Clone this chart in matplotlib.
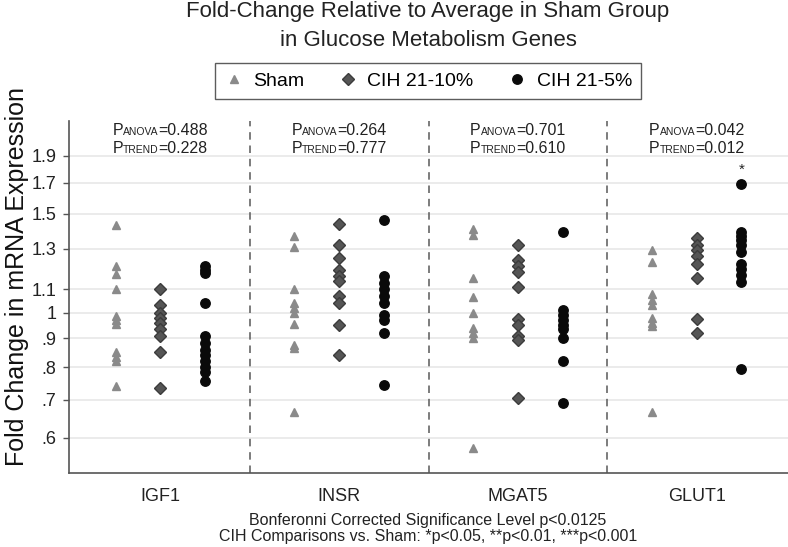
import matplotlib
matplotlib.use('Agg')
import matplotlib.pyplot as plt
from matplotlib.lines import Line2D
from matplotlib.offsetbox import TextArea, HPacker, VPacker, AnnotationBbox

plt.rcParams['font.family'] = ['Liberation Sans', 'DejaVu Sans']

# Данные
GENES = ['IGF1', 'INSR', 'MGAT5', 'GLUT1']
GROUPS = ['Sham', 'CIH 21-10%', 'CIH 21-5%']

SHAM = [
    [1.43, 1.21, 1.17, 1.10, 0.985, 0.97, 0.955, 0.85, 0.835, 0.82, 0.74],
    [1.37, 1.31, 1.10, 1.04, 1.02, 1.0, 0.955, 0.875, 0.865, 0.665],
    [1.41, 1.375, 1.15, 1.065, 1.0, 0.94, 0.92, 0.90, 0.575],
    [1.29, 1.23, 1.08, 1.055, 1.03, 0.98, 0.96, 0.945, 0.665],
]
CIH10 = [
    [1.10, 1.03, 1.0, 0.98, 0.96, 0.935, 0.91, 0.85, 0.735],
    [1.44, 1.32, 1.25, 1.19, 1.16, 1.14, 1.07, 1.04, 0.95, 0.84],
    [1.32, 1.24, 1.21, 1.18, 1.11, 0.975, 0.95, 0.91, 0.895, 0.705],
    [1.355, 1.32, 1.29, 1.26, 1.22, 1.15, 0.975, 0.92],
]
CIH5 = [
    [1.21, 1.19, 1.175, 1.04, 0.91, 0.885, 0.86, 0.84, 0.82, 0.80, 0.785, 0.755],
    [1.46, 1.16, 1.13, 1.10, 1.07, 1.04, 0.99, 0.97, 0.92, 0.745],
    [1.39, 1.01, 0.99, 0.97, 0.95, 0.935, 0.90, 0.82, 0.69],
    [1.69, 1.39, 1.37, 1.345, 1.32, 1.28, 1.22, 1.195, 1.165, 1.135, 0.795],
]
P_ANOVA = ['0.488', '0.264', '0.701', '0.042']
P_TREND = ['0.228', '0.777', '0.610', '0.012']
STARS_CIH5 = ['', '', '', '*']

YTICKS = [0.6, 0.7, 0.8, 0.9, 1.0, 1.1, 1.3, 1.5, 1.7, 1.9]
YTICKLABELS = ['.6', '.7', '.8', '.9', '1', '1.1', '1.3', '1.5', '1.7', '1.9']

# Стили серий
STYLES = [
    dict(marker='^', ms=6.2, color='#8a8a8a', mec='#8a8a8a'),
    dict(marker='D', ms=5.8, color='#555555', mec='#3c3c3c'),
    dict(marker='o', ms=6.8, color='#0a0a0a', mec='#0a0a0a'),
]
OFFSETS = [-0.25, 0.0, 0.25]

# Центр области графика (заголовок и легенда по нему)
XC = 428 / 788


def p_line(name, value):
    # P с "подстрочными" капителями на одной базовой линии
    parts = [TextArea('P', textprops=dict(fontsize=11.5, color='#222222')),
             TextArea(name, textprops=dict(fontsize=7.5, color='#222222')),
             TextArea('=' + value, textprops=dict(fontsize=11.5, color='#222222'))]
    return HPacker(children=parts, align='baseline', pad=0, sep=0)


def Main():
    fig = plt.figure(figsize=(7.88, 5.47), dpi=100)
    ax = fig.add_axes([69 / 788, 1 - 473 / 547, 1 - 69 / 788, (473 - 121) / 547])

    ax.set_yscale('log')
    ax.set_ylim(0.519, 2.19)
    ax.set_xlim(0.49, 4.51)

    # Сетка
    for t in YTICKS:
        ax.axhline(t, color='#e8e8e8', lw=1.2, zorder=0)

    # Разделители между генами
    for i in range(len(GENES) - 1):
        ax.axvline(i + 1.5, color='#666666', lw=1.2, ls=(0, (4.5, 3.5)), zorder=1)

    # Точки
    for s, series in enumerate([SHAM, CIH10, CIH5]):
        for g, vals in enumerate(series):
            ax.plot([g + 1 + OFFSETS[s]] * len(vals), vals, ls='none', zorder=3, **STYLES[s])

    # Звёздочки
    for g, star in enumerate(STARS_CIH5):
        if star:
            ax.text(g + 1 + OFFSETS[2], max(CIH5[g]) * 1.06, star, ha='center', va='center',
                    fontsize=11, color='#222222')

    # P-значения
    for g in range(len(GENES)):
        box = VPacker(children=[p_line('ANOVA', P_ANOVA[g]), p_line('TREND', P_TREND[g])],
                      align='left', pad=0, sep=2)
        ab = AnnotationBbox(box, (g + 1, 2.03), xycoords='data', frameon=False,
                            box_alignment=(0.5, 0.5), pad=0, annotation_clip=False)
        ax.add_artist(ab)

    # Оси
    ax.set_yticks(YTICKS)
    ax.set_yticklabels(YTICKLABELS)
    ax.yaxis.set_minor_locator(matplotlib.ticker.NullLocator())
    ax.set_xticks(range(1, len(GENES) + 1))
    ax.set_xticklabels(GENES)
    ax.tick_params(axis='y', length=4, width=1.0, color='#555555', pad=5, labelsize=13, labelcolor='#222222')
    ax.tick_params(axis='x', length=0, pad=11, labelsize=13, labelcolor='#222222')
    for side in ['top', 'right']:
        ax.spines[side].set_visible(False)
    for side in ['left', 'bottom']:
        ax.spines[side].set_color('#555555')
        ax.spines[side].set_linewidth(1.2)

    # Заголовок и подписи
    fig.text(XC, 1 - 17 / 547, 'Fold-Change Relative to Average in Sham Group',
             ha='center', va='baseline', fontsize=16, color='#222222')
    fig.text(XC, 1 - 46 / 547, 'in Glucose Metabolism Genes',
             ha='center', va='baseline', fontsize=16, color='#222222')
    fig.text(17 / 788, 1 - 277 / 547, 'Fold Change in mRNA Expression', rotation=90,
             ha='center', va='center', fontsize=18, color='#111111')
    fig.text(XC, 1 - 521 / 547, 'Bonferonni Corrected Significance Level p<0.0125',
             ha='center', va='center', fontsize=11.5, color='#222222')
    fig.text(XC, 1 - 536 / 547, 'CIH Comparisons vs. Sham: *p<0.05, **p<0.01, ***p<0.001',
             ha='center', va='center', fontsize=11.5, color='#222222')

    # Легенда
    handles = [Line2D([], [], ls='none', **st) for st in STYLES]
    leg = fig.legend(handles, GROUPS, loc='center', bbox_to_anchor=(XC, 1 - 81 / 547),
                     ncol=3, fontsize=14, frameon=True, fancybox=False, handlelength=1.0,
                     handletextpad=0.5, columnspacing=1.75, borderpad=0.45)
    leg.get_frame().set_edgecolor('#333333')
    leg.get_frame().set_linewidth(1.0)

    fig.savefig('out.png', dpi=100)


if __name__ == "__main__": Main()
